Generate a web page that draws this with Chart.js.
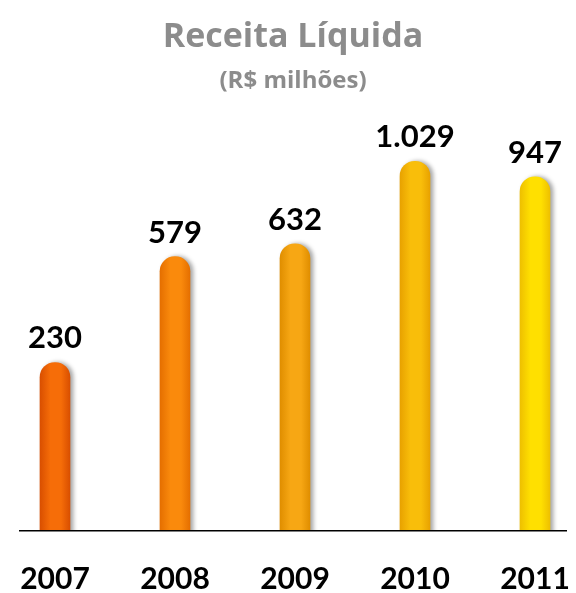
<!DOCTYPE html>
<html>
<head>
<meta charset="utf-8">
<script src="https://cdn.jsdelivr.net/npm/chart.js@4/dist/chart.umd.min.js"></script>
<style>
  html, body { margin: 0; padding: 0; background: #fff; }
  #wrap { width: 576px; height: 593px; position: relative; }
</style>
</head>
<body>
<div id="wrap"><canvas id="receitaChart"></canvas></div>
<script>
// Data
const years = ['2007', '2008', '2009', '2010', '2011'];
const receita = [230, 579, 632, 1029, 947];

// Bar colours (edge, centre) from orange to yellow
const barEdge = ['#d94f00', '#e56f00', '#e08e00', '#e8a200', '#eec000'];
const barCentre = ['#f66d08', '#fa8a0c', '#f7a714', '#f9be0a', '#ffe000'];

// The original bars are not on a linear scale; heights follow a square-root scale
class SqrtScale extends Chart.LinearScale {
  getPixelForValue(value) {
    if (value === null || value === undefined) return NaN;
    const lo = Math.sqrt(Math.max(this.min, 0));
    const hi = Math.sqrt(this.max);
    return this.getPixelForDecimal((Math.sqrt(Math.max(value, 0)) - lo) / (hi - lo));
  }
  getValueForPixel(pixel) {
    const lo = Math.sqrt(Math.max(this.min, 0));
    const hi = Math.sqrt(this.max);
    const s = lo + this.getDecimalForPixel(pixel) * (hi - lo);
    return s * s;
  }
}
SqrtScale.id = 'sqrt';
SqrtScale.defaults = Chart.LinearScale.defaults;
Chart.register(SqrtScale);

function formatBR(v) {
  return String(v).replace(/\B(?=(\d{3})+(?!\d))/g, '.');
}

// cylinder look: gradient across each bar
function barGradient(c) {
  const chart = c.chart;
  const i = c.dataIndex;
  if (!chart.chartArea || !chart.scales.x) return barCentre[i];
  const x = chart.scales.x.getPixelForValue(i);
  const g = chart.ctx.createLinearGradient(x - 15, 0, x + 15, 0);
  g.addColorStop(0, barEdge[i]);
  g.addColorStop(0.35, barCentre[i]);
  g.addColorStop(0.7, barCentre[i]);
  g.addColorStop(1, barEdge[i]);
  return g;
}

const barShadow = {
  id: 'barShadow',
  beforeDatasetsDraw(chart) {
    const ctx = chart.ctx;
    ctx.save();
    ctx.shadowColor = 'rgba(0, 0, 0, 0.35)';
    ctx.shadowBlur = 4;
    ctx.shadowOffsetX = 3;
    ctx.shadowOffsetY = 0;
  },
  afterDatasetsDraw(chart) {
    const ctx = chart.ctx;
    ctx.restore();
    // value labels above the bars
    ctx.save();
    ctx.font = 'bold 31px Lato';
    ctx.fillStyle = '#000';
    ctx.textAlign = 'center';
    ctx.textBaseline = 'alphabetic';
    chart.getDatasetMeta(0).data.forEach((bar, i) => {
      ctx.fillText(formatBR(receita[i]), bar.x, bar.y - 14);
    });
    ctx.restore();
  }
};

const ctx = document.getElementById('receitaChart').getContext('2d');
new Chart(ctx, {
  type: 'bar',
  data: {
    datasets: [{
      label: 'Receita Líquida',
      data: receita.map((v, i) => ({ x: i, y: v })),
      backgroundColor: barGradient,
      borderWidth: 0,
      borderSkipped: 'start',
      borderRadius: { topLeft: 15, topRight: 15, bottomLeft: 0, bottomRight: 0 },
      barThickness: 30
    }]
  },
  options: {
    responsive: true,
    maintainAspectRatio: false,
    animation: false,
    layout: { padding: { left: 20, right: 10, top: 0, bottom: 0 } },
    plugins: {
      legend: { display: false },
      tooltip: { enabled: false },
      title: {
        display: true,
        text: 'Receita Líquida',
        color: '#8c8c8c',
        font: { family: 'Open Sans', size: 34, weight: 'bold' },
        padding: { top: 17, bottom: 9 }
      },
      subtitle: {
        display: true,
        text: '(R$ milhões)',
        color: '#8c8c8c',
        font: { family: 'Open Sans', size: 24, weight: 'bold' },
        padding: { top: 0, bottom: 17 }
      }
    },
    scales: {
      x: {
        type: 'linear',
        offset: false,
        min: -0.2917,
        max: 4.2583,
        grid: { display: false, drawTicks: true, tickLength: 35 },
        border: { display: true, color: '#000', width: 1.5, z: 1 },
        ticks: {
          stepSize: 1,
          includeBounds: false,
          maxRotation: 0,
          autoSkip: false,
          padding: 0,
          color: '#000',
          font: { family: 'Lato', size: 30, weight: 'bold', lineHeight: 0.9 },
          callback: (v) => (Number.isInteger(v) && years[v] !== undefined ? years[v] : '')
        }
      },
      y: {
        type: 'sqrt',
        min: 1,
        max: 1308,
        display: false
      }
    }
  },
  plugins: [barShadow]
});
</script>
</body>
</html>
